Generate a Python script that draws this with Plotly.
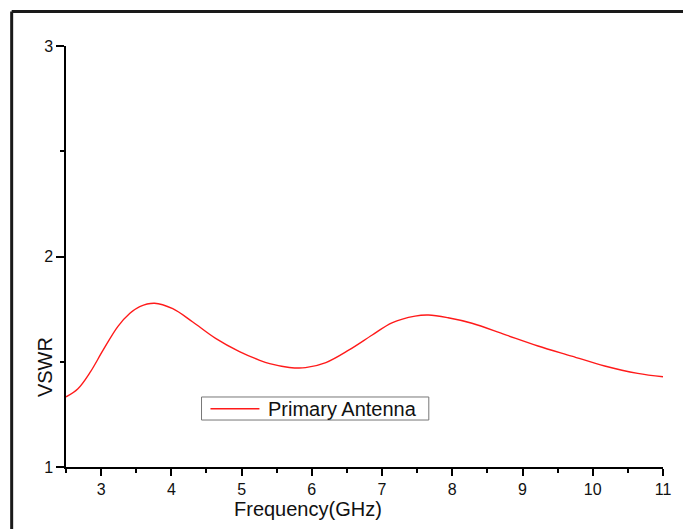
import plotly.graph_objects as go

freq = [2.5, 2.67, 2.84, 3.03, 3.24, 3.41, 3.55, 3.76, 4.02, 4.3, 4.63, 4.97, 5.25,
        5.40, 5.68, 5.91, 6.20, 6.53, 6.86, 7.14, 7.47, 7.66, 7.94, 8.28, 8.75,
        9.22, 9.70, 10.17, 10.64, 11.0]
vswr = [1.333, 1.372, 1.448, 1.556, 1.668, 1.73, 1.762, 1.778, 1.752, 1.69, 1.611,
        1.548, 1.508, 1.491, 1.473, 1.472, 1.496, 1.556, 1.627, 1.685, 1.717, 1.722,
        1.709, 1.683, 1.629, 1.575, 1.527, 1.48, 1.445, 1.429]
series_name = "Primary Antenna"
x_title = "Frequency(GHz)"
y_title = "VSWR"

FONT = "Arial, Liberation Sans, sans-serif"
RED = "#ff1a1a"

fig = go.Figure()
fig.add_trace(go.Scatter(x=freq, y=vswr, mode="lines", name=series_name, showlegend=False,
                         line=dict(color=RED, width=1.4, shape="spline", smoothing=1.0)))

fig.update_layout(
    width=683, height=529,
    margin=dict(l=66, r=18, t=46, b=62),
    plot_bgcolor="white", paper_bgcolor="white",
    font=dict(family=FONT, color="#111111", size=16),
    showlegend=False,
)
fig.update_xaxes(range=[2.5, 11], tickmode="linear", tick0=3, dtick=1,
                 showgrid=False, zeroline=False, showline=True, linecolor="black", linewidth=1.5,
                 ticks="outside", ticklen=7, tickwidth=1.5, tickcolor="black",
                 tickfont=dict(size=16, family=FONT),
                 minor=dict(dtick=0.5, tick0=2.5, ticks="outside", ticklen=4, tickwidth=1.5, tickcolor="black"))
fig.update_yaxes(range=[1, 3], tickmode="linear", tick0=1, dtick=1,
                 showgrid=False, zeroline=False, showline=True, linecolor="black", linewidth=1.5,
                 ticks="outside", ticklen=8, tickwidth=1.5, tickcolor="black",
                 tickfont=dict(size=16, family=FONT),
                 minor=dict(dtick=0.5, tick0=1, ticks="outside", ticklen=4, tickwidth=1.5, tickcolor="black"))

fig.add_annotation(text=x_title, xref="paper", yref="paper", x=0.4057, y=-0.0998,
                   showarrow=False, xanchor="center", yanchor="middle",
                   font=dict(size=20, family=FONT, color="#111111"))
fig.add_annotation(text=y_title, xref="paper", yref="paper", x=-0.035, y=0.2375,
                   showarrow=False, xanchor="center", yanchor="middle", textangle=-90,
                   font=dict(size=20, family=FONT, color="#111111"))

# legend box (drawn to match the reference's boxed legend)
fig.add_shape(type="rect", xref="paper", yref="paper", x0=0.227, x1=0.6077, y0=0.1116, y1=0.1663,
              line=dict(color="#777777", width=1), fillcolor="white")
fig.add_shape(type="line", xref="paper", yref="paper", x0=0.242, x1=0.324, y0=0.1385, y1=0.1385,
              line=dict(color=RED, width=1.4))
fig.add_annotation(text=series_name, xref="paper", yref="paper", x=0.3356, y=0.1385,
                   showarrow=False, xanchor="left", yanchor="middle",
                   font=dict(size=20, family=FONT, color="#111111"))

# outer frame (top and left edges)
fig.add_shape(type="line", xref="paper", yref="paper", x0=-0.091, x1=1.05, y0=1.082, y1=1.082,
              line=dict(color="#1a1a1a", width=3))
fig.add_shape(type="line", xref="paper", yref="paper", x0=-0.091, x1=-0.091, y0=1.082, y1=-0.2,
              line=dict(color="#1a1a1a", width=3))

fig.write_html("out.html")
